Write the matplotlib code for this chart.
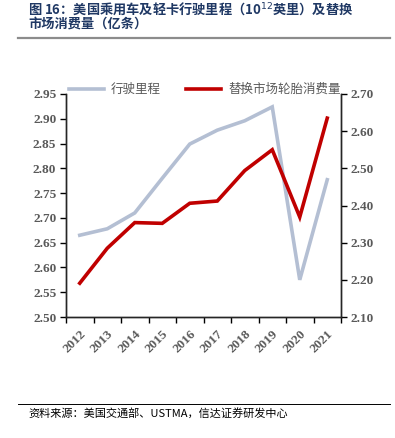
import numpy as np
import matplotlib.pyplot as plt
from matplotlib.lines import Line2D

plt.rcParams['font.family'] = ['Noto Sans CJK SC', 'DejaVu Sans']

# data
years = ['2012', '2013', '2014', '2015', '2016', '2017', '2018', '2019', '2020', '2021']
mileage = [2.665, 2.678, 2.710, 2.780, 2.849, 2.877, 2.896, 2.924, 2.575, 2.777]
tire_sales = [2.191, 2.285, 2.354, 2.352, 2.406, 2.412, 2.494, 2.550, 2.369, 2.635]
left_ticks = [2.50, 2.55, 2.60, 2.65, 2.70, 2.75, 2.80, 2.85, 2.90, 2.95]
right_ticks = [2.10, 2.20, 2.30, 2.40, 2.50, 2.60, 2.70]

gray = '#B4BFD3'
red = '#C00000'
tick_color = '#595959'
serif_bold = dict(family='Liberation Serif', weight='bold', size=9.5)

fig = plt.figure(figsize=(3.95, 4.38), dpi=100)

# title and rules
fig.text(28 / 395, 1 - 9 / 438, '图 16：美国乘用车及轻卡行驶里程（10$^{12}$英里）及替换',
         color='#1F3864', fontsize=9.5, fontweight='bold', va='center', ha='left')
fig.text(28 / 395, 1 - 24 / 438, '市场消费量（亿条）',
         color='#1F3864', fontsize=9.5, fontweight='bold', va='center', ha='left')
fig.add_artist(Line2D([18 / 395, 390 / 395], [1 - 38 / 438] * 2, color='#8C8C8C', lw=1.6))
fig.add_artist(Line2D([18 / 395, 390 / 395], [1 - 404 / 438] * 2, color='black', lw=0.7))
fig.text(28 / 395, 1 - 413 / 438, '资料来源：美国交通部、USTMA，信达证券研发中心',
         fontsize=8, style='italic', va='center', ha='left', color='black')

ax = fig.add_axes([66 / 395, 1 - 317 / 438, 275 / 395, 223 / 438])
ax2 = ax.twinx()

x = np.arange(len(years))
l1, = ax.plot(x, mileage, color=gray, lw=2.6, label='行驶里程', solid_joinstyle='miter')
l2, = ax2.plot(x, tire_sales, color=red, lw=2.6, label='替换市场轮胎消费量', solid_joinstyle='miter')

ax.set_xlim(-0.5, len(years) - 0.5)
ax.set_ylim(2.50, 2.95)
ax2.set_ylim(2.10, 2.70)

# tick marks on category boundaries, labels at centres
ax.set_xticks(np.arange(-0.5, len(years), 1))
ax.set_xticklabels([])
ax.set_xticks(x, minor=True)
ax.set_xticklabels(years, minor=True, rotation=45, ha='right', va='top',
                   rotation_mode='anchor', color=tick_color, **serif_bold)
ax.tick_params(axis='x', which='minor', length=0, pad=8)
ax.tick_params(axis='x', which='major', length=4, width=1, direction='out')

ax.set_yticks(left_ticks)
ax.set_yticklabels([f'{v:.2f}' for v in left_ticks], color=tick_color, **serif_bold)
ax.tick_params(axis='y', length=4, width=1, direction='out', pad=3)
ax2.set_yticks(right_ticks)
ax2.set_yticklabels([f'{v:.2f}' for v in right_ticks], color=tick_color, **serif_bold)
ax2.tick_params(axis='y', length=4, width=1, direction='out', pad=3)

for a in (ax, ax2):
    a.spines['top'].set_visible(False)
    for s in ('left', 'right', 'bottom'):
        a.spines[s].set_color('#262626')
        a.spines[s].set_linewidth(1)

leg = ax.legend(handles=[l1, l2], loc='center', bbox_to_anchor=(0.505, 1.02), ncol=2,
                frameon=False, fontsize=9, handlelength=2.8, columnspacing=2.0,
                handletextpad=0.6, borderaxespad=0)
for t in leg.get_texts():
    t.set_color(tick_color)

fig.savefig('out.png', dpi=100)
